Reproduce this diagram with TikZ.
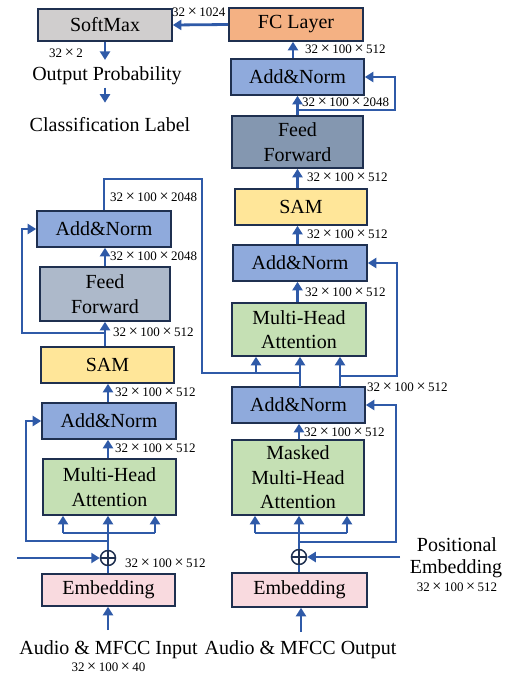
\documentclass[tikz,border=0pt]{standalone}
\usepackage{fontspec}
\setmainfont{Liberation Serif}
\usetikzlibrary{arrows.meta,calc}
\definecolor{ln}{HTML}{2F5AA8}
\definecolor{bd}{HTML}{1F3050}
\definecolor{smx}{HTML}{D0CECE}
\definecolor{fcx}{HTML}{F4B183}
\definecolor{anx}{HTML}{8FAADC}
\definecolor{ffd}{HTML}{8497B0}
\definecolor{ffl}{HTML}{ADB9CA}
\definecolor{samx}{HTML}{FFE699}
\definecolor{mhx}{HTML}{C5E0B4}
\definecolor{emx}{HTML}{F9DADF}
\newcommand\tms{\hspace{0.2em}{\fontsize{16}{16}\selectfont ×}\hspace{0.2em}}
\tikzset{
  box/.style={draw=bd, line width=1.6pt, inner sep=0pt, align=center,
    font=\fontsize{20}{24.5}\selectfont},
  arr/.style={draw=ln, line width=2.8pt, -{Triangle[width=10pt,length=8.5pt]}},
  res/.style={draw=ln, line width=2.4pt, -{Triangle[width=10pt,length=8.5pt]}},
  plain/.style={draw=ln, line width=2.6pt},
  thinl/.style={draw=ln, line width=1.6pt},
  dim/.style={font=\fontsize{13}{14}\selectfont, inner sep=0pt, anchor=west},
  big/.style={font=\fontsize{20}{24}\selectfont, inner sep=0pt, anchor=base},
  oplus/.style={circle, draw=bd, line width=1.5pt, minimum size=15pt, inner sep=0pt, fill=white},
  crossl/.style={draw=bd, line width=1.5pt},
}
\begin{document}
\begin{tikzpicture}[x=1pt,y=-1pt]
\useasboundingbox (0,0) rectangle (512,675);
% ---------- right column boxes ----------
\node[box, fill=smx, minimum width=134pt, minimum height=32pt] (sm) at (105,25) {SoftMax};
\node[box, fill=fcx, minimum width=134pt, minimum height=33pt] (fc) at (296,24.5) {FC Layer};
\node[box, fill=anx, minimum width=133pt, minimum height=36pt] (an4) at (297.5,77) {Add\&Norm};
\node[box, fill=ffd, minimum width=131pt, minimum height=52pt] (ff2) at (297.5,142) {Feed\\Forward};
\node[box, fill=samx, minimum width=132pt, minimum height=36pt] (sam2) at (301,207) {SAM};
\node[box, fill=anx, minimum width=134pt, minimum height=36pt] (an3) at (300,263) {Add\&Norm};
\node[box, fill=mhx, minimum width=134pt, minimum height=53pt] (mha2) at (299,329.5) {Multi-Head\\Attention};
\node[box, fill=anx, minimum width=133pt, minimum height=36pt] (an2) at (298.5,405) {Add\&Norm};
\node[box, fill=mhx, minimum width=132pt, minimum height=75pt] (mmha) at (298,477.5) {Masked\\Multi-Head\\Attention};
\node[box, fill=emx, minimum width=135pt, minimum height=34pt] (emb2) at (299.5,590) {Embedding};
\node[oplus] (ox2) at (299,557) {};
% ---------- left column boxes ----------
\node[box, fill=anx, minimum width=134pt, minimum height=36pt] (an1b) at (104,229) {Add\&Norm};
\node[box, fill=ffl, minimum width=130pt, minimum height=54pt] (ff1) at (105,294) {Feed\\Forward};
\node[box, fill=samx, minimum width=133pt, minimum height=36pt] (sam1) at (107.5,365) {SAM};
\node[box, fill=anx, minimum width=134pt, minimum height=36pt] (an1a) at (109,421) {Add\&Norm};
\node[box, fill=mhx, minimum width=133pt, minimum height=56pt] (mha1) at (109.5,487) {Multi-Head\\Attention};
\node[box, fill=emx, minimum width=133pt, minimum height=32pt] (emb1) at (108.5,590) {Embedding};
\node[oplus] (ox1) at (108,558) {};
% ---------- texts ----------
\node[big] (in1) at (108.5,654) {Audio \& MFCC Input};
\node[big] (in2) at (300.5,654) {Audio \& MFCC Output};
\node[dim, anchor=base] at (108.5,671) {32\tms100\tms40};
\node[big] (op) at (107,80) {Output Probability};
\node[big] (cl) at (110,131) {Classification Label};
\node[big] (pe1) at (457,551) {Positional};
\node[big] (pe2) at (456,573) {Embedding};
\node[dim, anchor=base] at (457,591) {32\tms100\tms512};
% ---------- dimension labels ----------
\node[dim] at (172,12) {32\tms1024};
\node[dim] at (49,53) {32\tms2};
\node[dim] at (305,49) {32\tms100\tms512};
\node[dim] at (302,102) {32\tms100\tms2048};
\node[dim] at (307,177) {32\tms100\tms512};
\node[dim] at (307,234) {32\tms100\tms512};
\node[dim] at (305,292) {32\tms100\tms512};
\node[dim] at (367,387) {32\tms100\tms512};
\node[dim] at (304,432) {32\tms100\tms512};
\node[dim] at (110,197) {32\tms100\tms2048};
\node[dim] at (110,256) {32\tms100\tms2048};
\node[dim] at (113,332) {32\tms100\tms512};
\node[dim] at (115,392) {32\tms100\tms512};
\node[dim] at (115,448) {32\tms100\tms512};
\node[dim] at (125,563) {32\tms100\tms512};
% ---------- coordinates ----------
\coordinate (s1) at (108,630);
\coordinate (s2) at (301,632);
\coordinate (pl) at (17,558);
\coordinate (pr) at (400,557);
\coordinate (sp1l) at (63,533);
\coordinate (sp1r) at (155,533);
\coordinate (sp2l) at (255,533);
\coordinate (sp2r) at (347,533);
\coordinate (r1) at (108,541);
\coordinate (r2) at (105,333);
\coordinate (r3) at (299,542);
\coordinate (r4) at (340,376);
\coordinate (r5) at (297.5,110);
\coordinate (t1) at (104,179);
\coordinate (t2) at (202,179);
\coordinate (e1) at (202,373);
\coordinate (e2) at (300,373);
\coordinate (e3) at (256,373);
\coordinate (q1) at (300,387);
\coordinate (q2) at (340,387);
% ---------- left connectors ----------
\draw[arr] (s1) -- (s1 |- emb1.south);
\draw[plain] (emb1.north -| ox1.center) -- (ox1.south);
\draw[arr] (ox1.north) -- (ox1.north |- mha1.south);
\draw[arr] (pl) -- (ox1.west);
\draw[thinl] (sp1l) -- (sp1r);
\draw[arr] (sp1l) -- (sp1l |- mha1.south);
\draw[arr] (sp1r) -- (sp1r |- mha1.south);
\draw[res] (r1) -- ++(-82,0) |- (an1a.west);
\draw[arr] (mha1.north -| ox1.center) -- (ox1.center |- an1a.south);
\draw[arr] (an1a.north -| ox1.center) -- (ox1.center |- sam1.south);
\draw[arr] (ff1.south |- sam1.north) -- (ff1.south);
\draw[res] (r2) -- ++(-83,0) |- (an1b.west);
\draw[arr] (ff1.north) -- (ff1.north |- an1b.south);
\draw[plain, line width=2.4pt] (an1b.north) -- (t1) -- (t2) -- (e1) -- (e2);
\draw[arr] (e3) -- (e3 |- mha2.south);
% ---------- right connectors ----------
\draw[arr] (s2) -- (s2 |- emb2.south);
\draw[plain] (emb2.north -| ox2.center) -- (ox2.south);
\draw[arr] (ox2.north) -- (ox2.north |- mmha.south);
\draw[arr] (pr) -- (ox2.east);
\draw[thinl] (sp2l) -- (sp2r);
\draw[arr] (sp2l) -- (sp2l |- mmha.south);
\draw[arr] (sp2r) -- (sp2r |- mmha.south);
\draw[res] (r3) -- ++(97,0) |- (an2.east);
\draw[arr] (mmha.north -| ox2.center) -- (ox2.center |- an2.south);
\draw[arr] (q1) -- (q1 |- mha2.south);
\draw[arr] (q2) -- (q2 |- mha2.south);
\draw[res] (r4) -- ++(57,0) |- (an3.east);
\draw[arr] (mha2.north -| ff2.south) -- (ff2.south |- an3.south);
\draw[arr] (an3.north -| ff2.south) -- (ff2.south |- sam2.south);
\draw[arr] (sam2.north -| ff2.south) -- (ff2.south);
\draw[res] (r5) -- ++(97.5,0) |- (an4.east);
\draw[arr] (ff2.north) -- (ff2.north |- an4.south);
\draw[arr] (an4.north -| 293,0) -- (fc.south -| 293,0);
\draw[arr] (fc.west) -- (sm.east);
\draw[arr, shorten >=6pt] (sm.south) -- (op.north -| sm.south);
\draw[arr, shorten <=3pt, shorten >=14pt] (op.south -| sm.south) -- (cl.north -| sm.south);
% ---------- oplus crosses ----------
\draw[crossl] (ox1.north) -- (ox1.south) (ox1.west) -- (ox1.east);
\draw[crossl] (ox2.north) -- (ox2.south) (ox2.west) -- (ox2.east);
\end{tikzpicture}
\end{document}
